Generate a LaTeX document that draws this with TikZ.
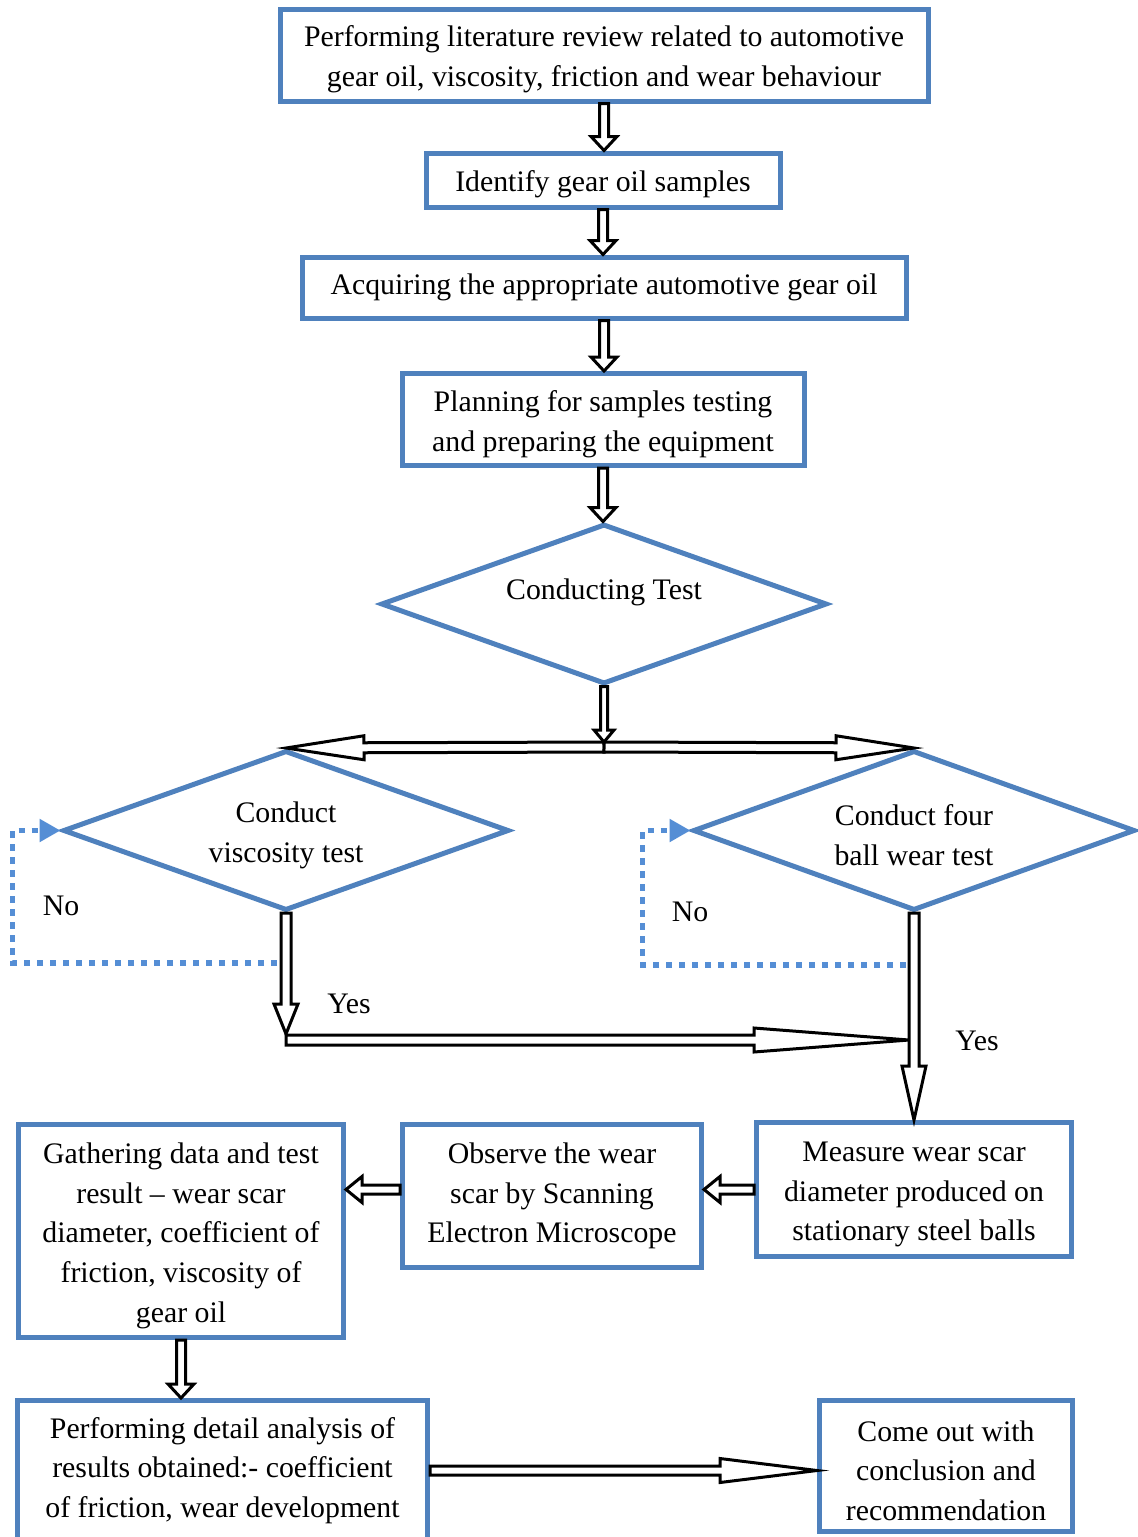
\documentclass[tikz,border=0pt]{standalone}
\usepackage{fontspec}
\setmainfont{Liberation Serif}
\usetikzlibrary{arrows.meta,shapes.geometric,calc}
\definecolor{boxcol}{RGB}{79,129,189}
\definecolor{loopcol}{RGB}{85,142,213}
\colorlet{arrowcol}{black}
\newcommand{\boxstrut}{\rule{0pt}{30pt}}
\tikzset{every node/.style={font=\fontsize{29.8}{39.6}\selectfont}}
\tikzset{
  procbox/.style={draw=boxcol, line width=5pt, fill=white, align=center, inner sep=0pt},
  decision/.style={diamond, aspect=2.8, draw=boxcol, line width=5pt, fill=white,
    align=center, inner sep=0pt},
  noloop/.style={draw=loopcol, line width=5.5pt, dash pattern=on 6.5pt off 6.5pt,
    -{Triangle[length=21pt,width=22pt]}},
  arrowdims/.code n args={3}{\def\arshaft{#1pt}\def\arhead{#2pt}\def\arheadw{#3pt}},
  arrowdims={4.5}{14}{13},
  blockarrow/.style={draw=arrowcol, line width=3pt, fill=white, line join=miter,
    to path={let \p1=(\tikztostart), \p2=(\tikztotarget),
      \n1={atan2(\y2-\y1,\x2-\x1)}, \n2={veclen(\x2-\x1,\y2-\y1)} in
      {[shift={(\p1)}, rotate=\n1]
        (0pt,-\arshaft) -- ({\n2*1pt-\arhead},-\arshaft)
        -- ({\n2*1pt-\arhead},-\arheadw) -- ({\n2*1pt},0pt)
        -- ({\n2*1pt-\arhead},\arheadw) -- ({\n2*1pt-\arhead},\arshaft)
        -- (0pt,\arshaft) -- cycle}}}
}

\begin{document}
\begin{tikzpicture}[x=1pt, y=-1pt]
  \useasboundingbox (0,0) rectangle (1138,1537);

  % Process boxes, top column.
  \node[procbox, minimum width=648pt, minimum height=92pt] (lit) at (604,55)
    {\boxstrut Performing literature review related to automotive\\gear oil, viscosity, friction and wear behaviour};
  \node[procbox, minimum width=354pt, minimum height=54pt] (ident) at (603,180)
    {\boxstrut Identify gear oil samples};
  \node[procbox, minimum width=604pt, minimum height=61pt] (acq) at (604,287.5)
    {Acquiring the appropriate automotive gear oil};
  \node[procbox, minimum width=402pt, minimum height=92pt] (plan) at (603,419.5)
    {\boxstrut Planning for samples testing\\and preparing the equipment};

  % Decisions.
  \node[decision, minimum width=446pt, minimum height=160pt] (cond) at (604,604)
    {\boxstrut Conducting Test\\\mbox{}};
  \node[decision, minimum width=446pt, minimum height=160pt] (visc) at (286,830.5)
    {\boxstrut Conduct\\viscosity test};
  \node[decision, minimum width=442pt, minimum height=160pt] (ball) at (914,830.5)
    {\boxstrut Conduct four\\ball wear test};

  % Process boxes, lower rows.
  \node[procbox, minimum width=315pt, minimum height=134pt] (meas) at (914,1189.5)
    {\boxstrut Measure wear scar\\diameter produced on\\stationary steel balls};
  \node[procbox, minimum width=299pt, minimum height=143pt] (obs) at (552,1196)
    {Observe the wear\\scar by Scanning\\Electron Microscope};
  \node[procbox, minimum width=325pt, minimum height=213pt] (gath) at (181,1231)
    {\boxstrut Gathering data and test\\result – wear scar\\diameter, coefficient of\\friction, viscosity of\\gear oil};
  \node[procbox, minimum width=410pt, minimum height=140pt] (anal) at (222.5,1470.5)
    {Performing detail analysis of\\results obtained:- coefficient\\of friction, wear development};
  \node[procbox, minimum width=253pt, minimum height=131pt] (concl) at (946,1466)
    {\boxstrut Come out with\\conclusion and\\recommendation};

  % Branch labels.
  \node (noA) at (61,906) {No};
  \node (noB) at (690,912) {No};
  \node (yesA) at (349,1004) {Yes};
  \node (yesB) at (977,1041) {Yes};

  % Junction points.
  \coordinate (fork) at (604,747);
  \coordinate (forktip) at (604,742);
  \coordinate (vjoin) at (286,1034);
  \coordinate (yesL) at (286,1040);
  \coordinate (yesR) at (909,1040);
  \coordinate (vleft) at (277,963);
  \coordinate (bleft) at (906,965);

  % Retest loops (dotted).
  \draw[noloop] (vleft) -| ([xshift=-48pt]visc.west) -- (visc.west);
  \draw[noloop] (bleft) -| ([xshift=-48pt]ball.west) -- (ball.west);

  % Block arrows.
  \draw[blockarrow] (lit.south) to (lit.south |- ident.north);
  \draw[blockarrow] (ident.south) to (ident.south |- acq.north);
  \draw[blockarrow] (acq.south) to (acq.south |- plan.north);
  \draw[blockarrow] (plan.south) to (plan.south |- cond.north);
  \draw[blockarrow, arrowdims={5}{78}{12}] (fork) to (visc.north);
  \draw[blockarrow, arrowdims={5}{78}{12}] (fork) to (ball.north);
  \draw[blockarrow, arrowdims={3.5}{12}{10}] (cond.south) to (forktip);
  \draw[blockarrow, arrowdims={5}{30}{12}] (visc.south) to (vjoin);
  \draw[blockarrow, arrowdims={5}{155}{12}] (yesL) to (yesR);
  \draw[blockarrow, arrowdims={5}{54}{12}] (ball.south) to (ball.south |- meas.north);
  \draw[blockarrow, arrowdims={4.5}{16}{13}] (meas.west) to (meas.west -| obs.east);
  \draw[blockarrow, arrowdims={4.5}{16}{13}] (obs.west |- meas.west) to (meas.west -| gath.east);
  \draw[blockarrow] (gath.south) to (gath.south |- anal.north);
  \draw[blockarrow, arrowdims={4.5}{97}{12}] (anal.east) to (anal.east -| concl.west);

\end{tikzpicture}
\end{document}
